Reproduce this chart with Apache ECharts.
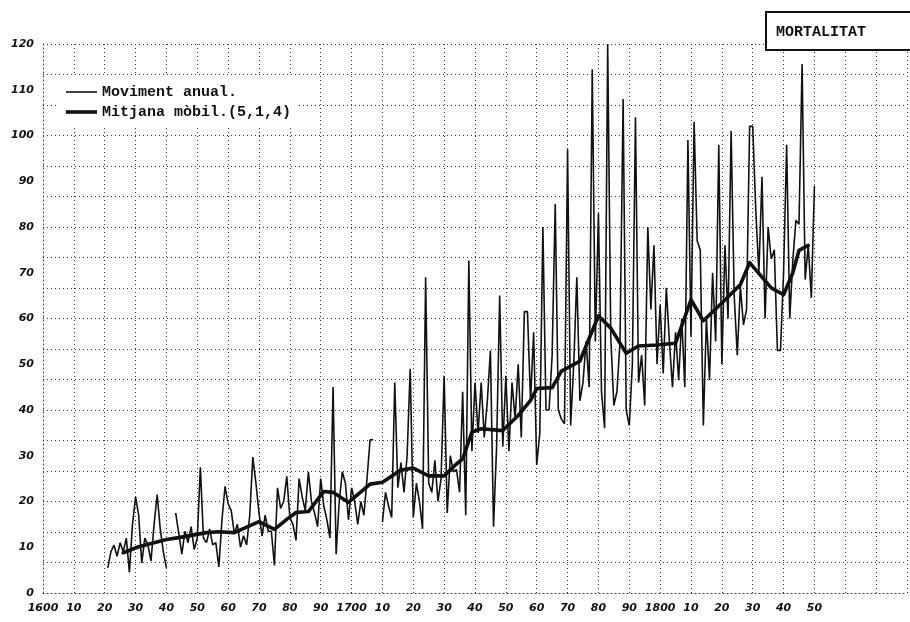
<!DOCTYPE html>
<html>
<head>
<meta charset="utf-8">
<script src="https://cdn.jsdelivr.net/npm/echarts@6/dist/echarts.min.js"></script>
<style>
  html, body { margin: 0; padding: 0; background: #ffffff; }
  #chart { width: 910px; height: 622px; }
</style>
</head>
<body>
<div id="chart"></div>
<script>
// ---- Data ----
const xTickLabels = ['1600','10','20','30','40','50','60','70','80','90',
                     '1700','10','20','30','40','50','60','70','80','90',
                     '1800','10','20','30','40','50'];
const yTickLabels = ['0','10','20','30','40','50','60','70','80','90','100','110','120'];

const annualName = 'Moviment anual.';
const averageName = 'Mitjana mòbil.(5,1,4)';
const titleText = 'MORTALITAT';

// Moviment anual: one value per year, first year 1621 (null = gap)
const annualFirstYear = 1621;
const annualValues = [
  5.5, 9, 10.5, 8, 11, 9, 12, 4.5, 15, 21,            // 1621-1630
  17, 6.5, 12, 10.5, 7, 15, 21.5, 14, 9, 5.5,         // 1631-1640
  null, null, 17.5, 13, 8.5, 13.5, 11, 14.5, 9.5, 12, // 1641-1650
  27.5, 12, 11, 14, 10.5, 11, 5.7, 16, 23.3, 19.5,    // 1651-1660
  18, 13, 15, 10, 12.5, 10.5, 17, 29.7, 24, 17.5,     // 1661-1670
  12.5, 17, 13.5, 13.5, 6, 23, 18.5, 20, 25.5, 16.5,  // 1671-1680
  15, 11.5, 25, 21, 18, 26.5, 20, 17.5, 14.5, 25,     // 1681-1690
  19, 16, 12, 45, 8.5, 20, 26.5, 24, 16, 23,          // 1691-1700
  20, 15, 20, 17, 25, 33.5, 33.5, null, null, 15.5,   // 1701-1710
  22, 19, 16.5, 46, 23, 28.5, 22, 30, 49, 16.5,       // 1711-1720
  24, 20, 14, 69, 24, 22, 29, 20, 25, 47.5,           // 1721-1730
  17.5, 30, 26.5, 27, 22, 44, 17, 72.7, 31, 46,       // 1731-1740
  35, 46, 34, 42, 53, 14.5, 32, 65, 32, 47.5,         // 1741-1750
  31, 46, 38, 50, 34, 61.5, 61.5, 42, 57, 28,         // 1751-1760
  35, 80, 40, 40, 52, 85, 40, 38, 37, 97,             // 1761-1770
  36.6, 50, 69, 42, 46, 55, 45, 114.5, 55, 83,        // 1771-1780
  44, 36, 120, 56, 41, 44, 55, 108, 40, 36.6,         // 1781-1790
  50, 104, 46, 52, 41, 80, 62, 76, 50, 63,            // 1791-1800
  48, 66.7, 55, 45, 57, 46.5, 60, 45, 99, 56,         // 1801-1810
  103, 77, 75, 36.6, 60, 46.5, 70, 55, 98, 50,        // 1811-1820
  76, 60, 101, 65, 52, 67, 58.6, 62, 102, 102,        // 1821-1830
  83.6, 70, 91, 60, 80, 73, 75, 53, 53, 70,           // 1831-1840
  98, 60, 72.7, 81.5, 80.6, 115.6, 68.5, 76, 64.5, 89 // 1841-1850
];

// Mitjana mòbil: breakpoints of the thick line
const averageYears = [1626, 1631, 1640, 1644, 1653, 1657, 1662, 1670, 1675, 1679,
                      1682, 1686, 1691, 1694, 1699, 1706, 1710, 1716, 1720, 1725,
                      1730, 1734, 1736, 1739, 1742, 1749, 1754, 1758, 1760, 1765,
                      1768, 1774, 1780, 1784, 1789, 1793, 1799, 1805, 1810, 1814,
                      1820, 1826, 1829, 1836, 1840, 1843, 1845, 1848];
const averageValues = [8.8, 10.1, 11.7, 12.1, 13.2, 13.4, 13.2, 15.6, 13.9, 16.1,
                       17.6, 17.8, 22.2, 22.0, 19.8, 23.8, 24.2, 26.9, 27.3, 25.6,
                       25.6, 28.2, 29.3, 35.2, 35.9, 35.5, 38.8, 42.1, 44.7, 44.9,
                       48.5, 50.7, 60.6, 57.9, 52.4, 54.0, 54.2, 54.6, 64.1, 59.5,
                       63.4, 67.4, 72.2, 66.7, 65.2, 70.0, 74.9, 76.0];

// ---- Build chart ----
const annualData = annualValues.map((v, i) => [annualFirstYear + i, v]);
const averageData = averageYears.map((y, i) => [y, averageValues[i]]);

const ink = '#111111';
const gridDots = { color: '#3a3a3a', width: 1, type: [1, 3] };
const monoFont = '"Liberation Mono", "DejaVu Sans Mono", monospace';

const chart = echarts.init(document.getElementById('chart'), null, { renderer: 'canvas' });
chart.setOption({
  animation: false,
  backgroundColor: '#ffffff',
  grid: { left: 43, right: 3, top: 44, bottom: 29, containLabel: false },
  xAxis: {
    type: 'value', min: 1600, max: 1880, interval: 10,
    axisLine: { show: true, lineStyle: gridDots },
    axisTick: { show: false },
    axisLabel: {
      margin: 10, color: ink, fontSize: 11, fontWeight: 'bold',
      fontFamily: 'DejaVu Sans', fontStyle: 'italic',
      formatter: v => xTickLabels[Math.round((v - 1600) / 10)] || ''
    },
    splitLine: { show: true, lineStyle: gridDots }
  },
  yAxis: [{
    type: 'value', min: 0, max: 120, interval: 10,
    axisLine: { show: true, lineStyle: gridDots },
    axisTick: { show: false },
    axisLabel: {
      margin: 9, color: ink, fontSize: 11, fontWeight: 'bold',
      fontFamily: 'DejaVu Sans', fontStyle: 'italic',
      formatter: v => yTickLabels[Math.round(v / 10)] || ''
    },
    splitLine: { show: false }
  }, {
    type: 'value', min: 0, max: 18, interval: 1, position: 'right',
    axisLine: { show: false }, axisTick: { show: false }, axisLabel: { show: false },
    splitLine: { show: true, lineStyle: gridDots }
  }],
  series: [{
    name: annualName, type: 'line', data: annualData,
    showSymbol: false, connectNulls: false,
    lineStyle: { color: ink, width: 1.6 }, z: 3
  }, {
    name: averageName, type: 'line', data: averageData,
    showSymbol: false,
    lineStyle: { color: ink, width: 3.6, join: 'round', cap: 'round' }, z: 4
  }],
  graphic: [
    { type: 'rect', z: 10, shape: { x: 58, y: 76, width: 240, height: 50 }, style: { fill: '#ffffff' } },
    { type: 'line', z: 11, shape: { x1: 66, y1: 92, x2: 97, y2: 92 }, style: { stroke: ink, lineWidth: 1.6 } },
    { type: 'text', z: 11, x: 102, y: 92, style: { text: annualName, font: 'bold 15px ' + monoFont, fill: ink, verticalAlign: 'middle' } },
    { type: 'line', z: 11, shape: { x1: 66, y1: 112, x2: 97, y2: 112 }, style: { stroke: ink, lineWidth: 3.6 } },
    { type: 'text', z: 11, x: 102, y: 112, style: { text: averageName, font: 'bold 15px ' + monoFont, fill: ink, verticalAlign: 'middle' } },
    { type: 'rect', z: 10, shape: { x: 766, y: 12, width: 150, height: 38 }, style: { fill: '#ffffff', stroke: ink, lineWidth: 2 } },
    { type: 'text', z: 11, x: 776, y: 32, style: { text: titleText, font: 'bold 15px ' + monoFont, fill: ink, verticalAlign: 'middle' } }
  ]
});
</script>
</body>
</html>
